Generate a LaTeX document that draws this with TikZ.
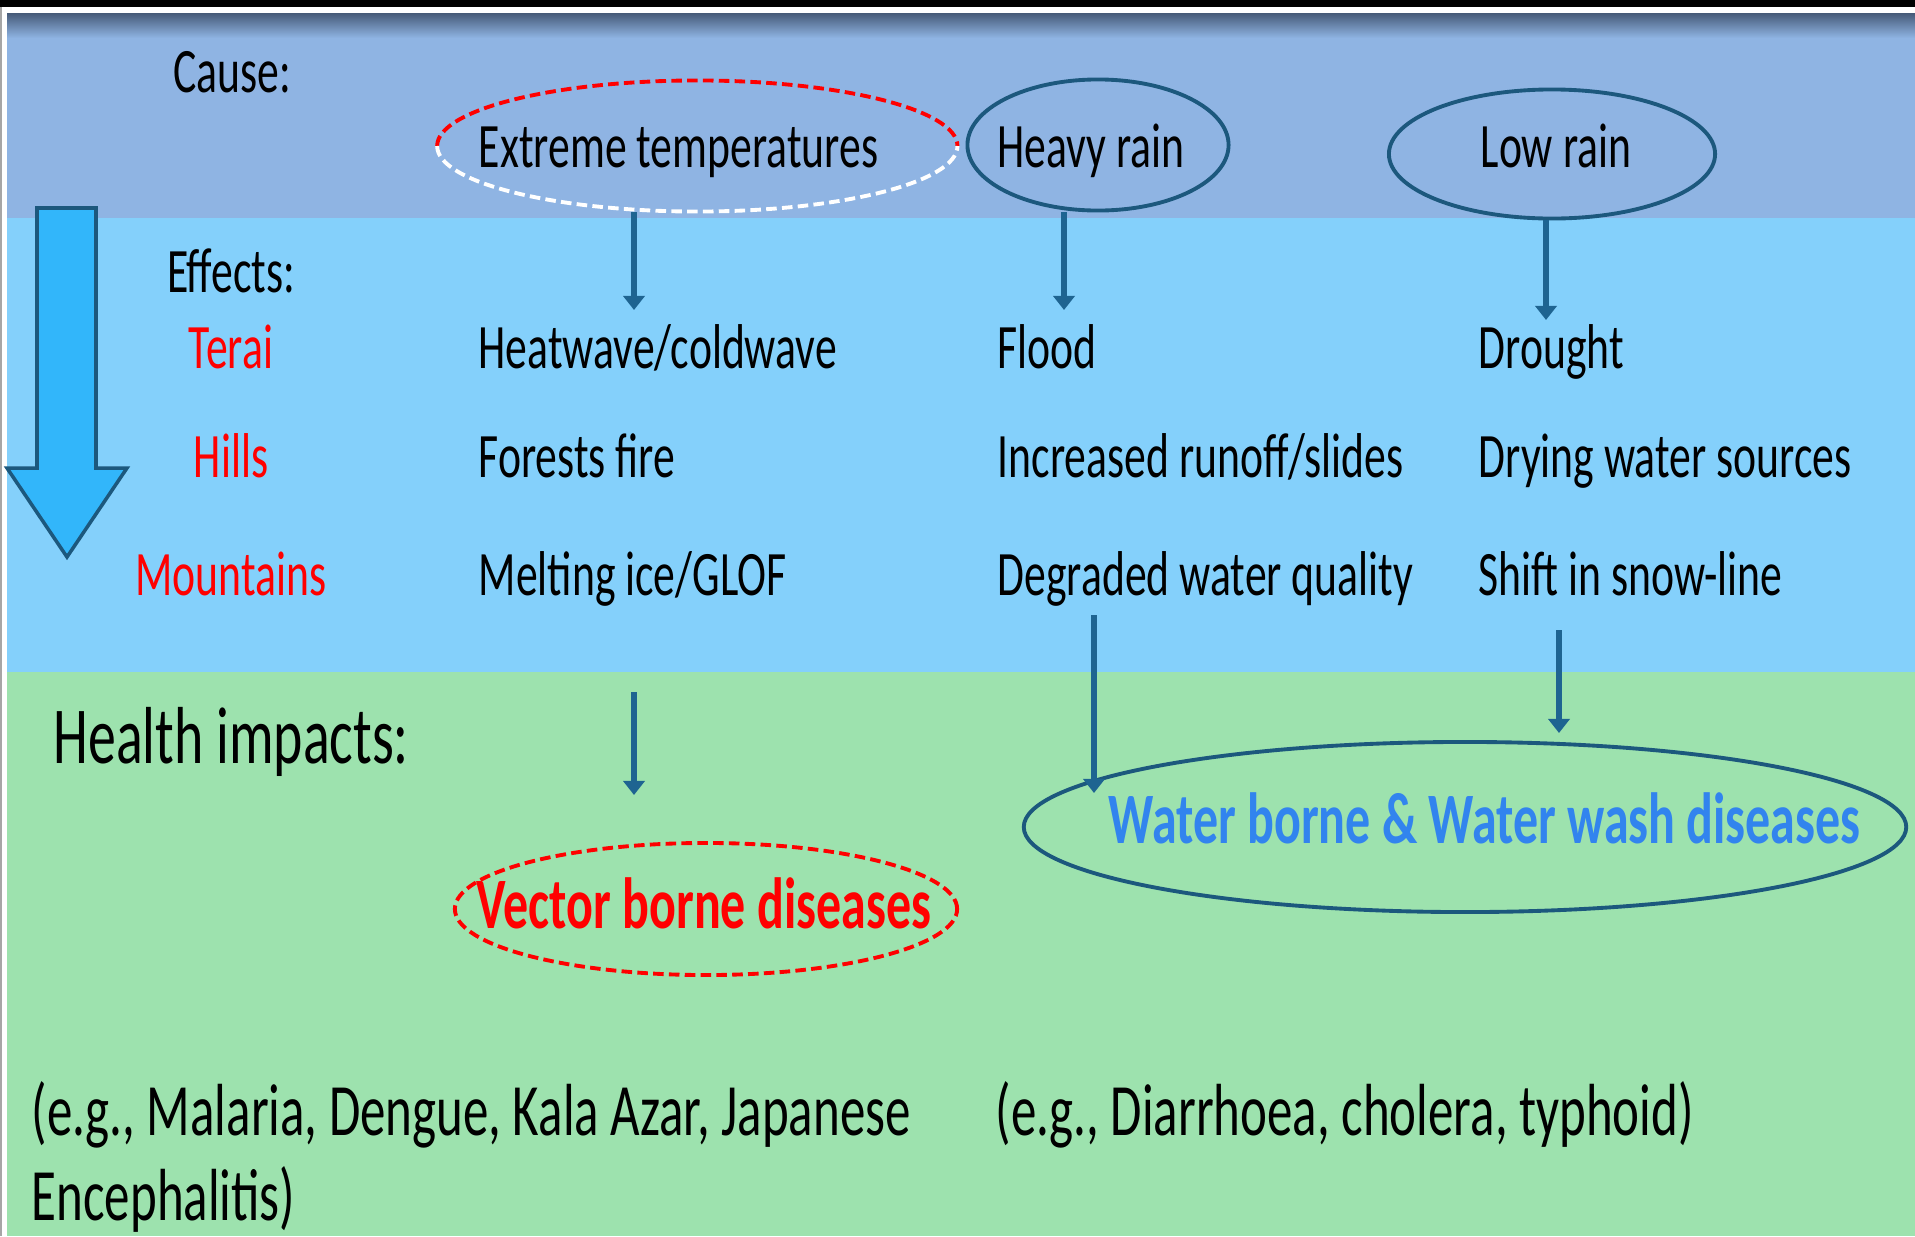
\documentclass[tikz,border=0pt]{standalone}
\usepackage{fontspec}
\setmainfont{Carlito}[FakeStretch = 0.69]
\usetikzlibrary{shapes.geometric,arrows.meta,positioning}

\definecolor{causeband}{RGB}{143,180,227}
\definecolor{effectband}{RGB}{132,208,251}
\definecolor{healthband}{RGB}{157,226,174}
\definecolor{rimblue}{RGB}{28,88,125}
\definecolor{flowblue}{RGB}{30,100,145}
\definecolor{bigarrow}{RGB}{50,182,250}
\definecolor{washblue}{RGB}{50,132,238}
\definecolor{topshade}{RGB}{70,90,120}

\begin{document}
\begin{tikzpicture}[x = 0.01cm, y = -0.01cm, > = {Triangle[width = 6pt, length = 4pt]}]
    \tikzset{
      txt/.style = {anchor = base west, inner sep = 0pt, font = \fontsize{18}{20}\selectfont},
      region/.style = {anchor = base, inner sep = 0pt, text = red, font = \fontsize{18}{20}\selectfont},
      cause/.style = {ellipse, draw = rimblue, line width = 1.1pt, inner sep = 0pt},
      disease/.style = {anchor = base, inner sep = 0pt, font = \bfseries\fontsize{20.6}{24}\selectfont},
      eglist/.style = {anchor = base west, inner sep = 0pt, font = \fontsize{21}{24}\selectfont},
      flow/.style = {->, draw = flowblue, line width = 1.6pt},
      reddash/.style = {dash pattern = on 3pt off 1.5pt, line width = 1.1pt},
    }
    \useasboundingbox (0, 0) rectangle (1915, 1236);

    \fill[black] (0, 0) rectangle (1915, 7);
    \fill[white] (0, 7) rectangle (1915, 13);
    \fill[gray!70] (0, 7) rectangle (2, 1236);
    \fill[white] (2, 7) rectangle (7, 1236);
    \fill[causeband] (7, 13) rectangle (1915, 218);
    \shade[top color = topshade, bottom color = causeband] (7, 13) rectangle (1915, 38);
    \fill[effectband] (7, 218) rectangle (1915, 672);
    \fill[healthband] (7, 672) rectangle (1915, 1236);

    \filldraw[fill = bigarrow, draw = rimblue, line width = 1pt]
      (37, 208) -- (96, 208) -- (96, 468) -- (127, 468) -- (67, 557) -- (7, 468) -- (37, 468) -- cycle;

    \node[region, text = black] (cause) at (232, 92) {Cause:};
    \node[region, text = black] (effects) at (231, 292) {Effects:};
    \node[region] (terai) at (231, 368) {Terai};
    \node[region] (hills) at (231, 477) {Hills};
    \node[region] (mountains) at (231, 595) {Mountains};

    \node[ellipse, inner sep = 0pt, minimum width = 5.2cm, minimum height = 1.31cm] (extreme) at (698, 146) {};
    \draw[red, reddash] (extreme.west) arc[start angle = 180, end angle = 0, x radius = 2.6cm, y radius = 0.655cm];
    \draw[white, reddash] (extreme.west) arc[start angle = 180, end angle = 360, x radius = 2.6cm, y radius = 0.655cm];
    \node[cause, minimum width = 2.61cm, minimum height = 1.31cm] (heavy) at (1098, 145) {};
    \node[cause, minimum width = 3.26cm, minimum height = 1.29cm] (low) at (1552, 154) {};
    \node[txt] (extremetxt) at (478, 167) {Extreme temperatures};
    \node[txt] (heavytxt) at (997, 167) {Heavy rain};
    \node[txt] (lowtxt) at (1480, 167) {Low rain};

    \node[txt] (heat) at (478, 368) {Heatwave/coldwave};
    \node[txt] (forest) at (478, 477) {Forests fire};
    \node[txt] (melt) at (478, 595) {Melting ice/GLOF};
    \node[txt] (flood) at (997, 368) {Flood};
    \node[txt] (runoff) at (997, 477) {Increased runoff/slides};
    \node[txt] (quality) at (997, 595) {Degraded water quality};
    \node[txt] (drought) at (1478, 368) {Drought};
    \node[txt] (drying) at (1478, 477) {Drying water sources};
    \node[txt] (snow) at (1478, 595) {Shift in snow-line};

    \coordinate (heattip) at (634, 310);
    \coordinate (floodtip) at (1064, 310);
    \coordinate (droughttip) at (1546, 320);
    \draw[flow] (extreme.south -| heattip) -- (heattip);
    \draw[flow] (heavy.south -| floodtip) -- (floodtip);
    \draw[flow] (low.south -| droughttip) -- (droughttip);

    \node[txt, font = \fontsize{23}{26}\selectfont] (health) at (53, 763) {Health impacts:};

    \node[ellipse, draw = red, reddash, inner sep = 0pt, minimum width = 5.02cm, minimum height = 1.32cm] (vector) at (706, 909) {};
    \node[disease, text = red] (vectortxt) at (704, 928) {Vector borne diseases};
    \node[cause, minimum width = 8.82cm, minimum height = 1.7cm] (wash) at (1465, 827) {};
    \node[disease, anchor = base west, text = washblue] (washtxt) at (1108, 843) {Water borne \& Water wash diseases};

    \coordinate (meltout) at (634, 692);
    \coordinate (vectorin) at (634, 795);
    \coordinate (qualityout) at (1094, 615);
    \coordinate (washin) at (1094, 793);
    \coordinate (snowout) at (1559, 630);
    \coordinate (washtop) at (1559, 733);
    \draw[flow] (meltout) -- (vectorin);
    \draw[flow] (qualityout) -- (washin);
    \draw[flow] (snowout) -- (washtop);

    \node[eglist] (vectoreg) at (31, 1135) {(e.g., Malaria, Dengue, Kala Azar, Japanese};
    \node[eglist] (vectoreg2) at (31, 1220) {Encephalitis)};
    \node[eglist] (washeg) at (995, 1135) {(e.g., Diarrhoea, cholera, typhoid)};
\end{tikzpicture}
\end{document}
